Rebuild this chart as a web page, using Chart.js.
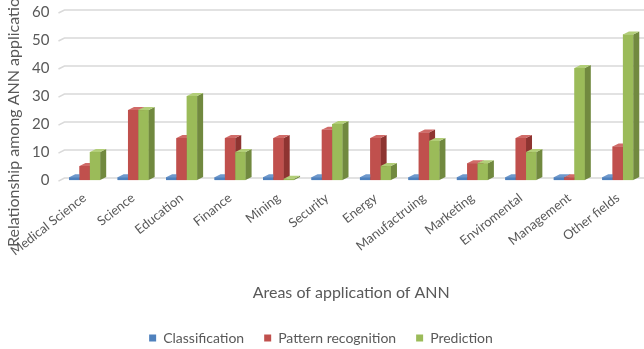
<!DOCTYPE html>
<html>
<head>
<meta charset="utf-8">
<script src="https://cdn.jsdelivr.net/npm/chart.js@4/dist/chart.umd.min.js"></script>
<style>
  html, body { margin: 0; padding: 0; background: #ffffff; }
  #wrap { width: 644px; height: 349px; position: relative; }
</style>
</head>
<body>
<div id="wrap"><canvas id="c" width="644" height="349"></canvas></div>
<script>
const categories = ["Medical Science", "Science", "Education", "Finance", "Mining", "Security",
  "Energy", "Manufactruing", "Marketing", "Enviromental", "Management", "Other fields"];
const classification = [1, 1, 1, 1, 1, 1, 1, 1, 1, 1, 1, 1];
const patternRecognition = [5, 25, 15, 15, 15, 18, 15, 17, 6, 15, 1, 12];
const prediction = [10, 25, 30, 10, 0.5, 20, 5, 14, 6, 10, 40, 52];
const yTicks = [0, 10, 20, 30, 40, 50, 60];

const TEXT = "#595959";
const FONT = "Lato, 'Liberation Sans', sans-serif";
const DEPTH_X = 6, DEPTH_Y = 3;

// face colours per series: front, side, top
const palette = [
  { front: "#4F81BD", side: "#385D8A", top: "#6E98CC" },
  { front: "#C0504D", side: "#8E3431", top: "#D06B68" },
  { front: "#9BBB59", side: "#71893F", top: "#B2CE78" }
];

// back wall gridlines with a short slanted edge on the left
const backGrid = {
  id: "backGrid",
  beforeDatasetsDraw(chart) {
    const { ctx, chartArea } = chart;
    const y = chart.scales.y;
    ctx.save();
    ctx.strokeStyle = "#D9D9D9";
    ctx.lineWidth = 1.5;
    yTicks.forEach(v => {
      const py = y.getPixelForValue(v);
      ctx.beginPath();
      ctx.moveTo(chartArea.left - 2, py + 1);
      ctx.lineTo(chartArea.left + DEPTH_X - 2, py - DEPTH_Y + 1);
      ctx.lineTo(chartArea.right + DEPTH_X - 2, py - DEPTH_Y + 1);
      ctx.stroke();
    });
    ctx.restore();
  }
};

// extruded bars: front, top and right-hand faces, series drawn left to right
const bars3d = {
  id: "bars3d",
  afterDatasetsDraw(chart) {
    const { ctx } = chart;
    ctx.save();
    chart.data.datasets.forEach((ds, di) => {
      const meta = chart.getDatasetMeta(di);
      const c = palette[di];
      meta.data.forEach(el => {
        const p = el.getProps(["x", "y", "base", "width"], true);
        const l = p.x - p.width / 2, r = p.x + p.width / 2;
        const top = Math.min(p.y, p.base), bot = Math.max(p.y, p.base);
        ctx.fillStyle = c.front;
        ctx.fillRect(l, top, r - l, bot - top);
        ctx.fillStyle = c.side;
        ctx.beginPath();
        ctx.moveTo(r, top); ctx.lineTo(r + DEPTH_X, top - DEPTH_Y);
        ctx.lineTo(r + DEPTH_X, bot - DEPTH_Y); ctx.lineTo(r, bot);
        ctx.closePath(); ctx.fill();
        ctx.fillStyle = c.top;
        ctx.beginPath();
        ctx.moveTo(l, top); ctx.lineTo(l + DEPTH_X, top - DEPTH_Y);
        ctx.lineTo(r + DEPTH_X, top - DEPTH_Y); ctx.lineTo(r, top);
        ctx.closePath(); ctx.fill();
      });
    });
    ctx.restore();
  }
};

// vertical axis title
const yTitle = {
  id: "yTitle",
  afterDraw(chart) {
    const { ctx } = chart;
    ctx.save();
    ctx.translate(14, 118);
    ctx.rotate(-Math.PI / 2);
    ctx.fillStyle = TEXT;
    ctx.font = "16px " + FONT;
    ctx.textAlign = "center";
    ctx.textBaseline = "middle";
    ctx.fillText("Relationship among ANN application", 0, 0);
    ctx.restore();
  }
};

new Chart(document.getElementById("c"), {
  type: "bar",
  data: {
    labels: categories,
    datasets: [
      { label: "Classification", data: classification, backgroundColor: palette[0].front },
      { label: "Pattern recognition", data: patternRecognition, backgroundColor: palette[1].front },
      { label: "Prediction", data: prediction, backgroundColor: palette[2].front }
    ]
  },
  options: {
    responsive: false,
    animation: false,
    categoryPercentage: 0.64,
    barPercentage: 1.0,
    layout: { padding: { top: 12, right: 2, left: 0, bottom: -6 } },
    plugins: {
      tooltip: { enabled: false },
      legend: {
        position: "bottom",
        labels: {
          color: TEXT,
          font: { family: FONT, size: 14 },
          boxWidth: 7, boxHeight: 7,
          padding: 20
        }
      }
    },
    scales: {
      x: {
        grid: { display: false, drawTicks: false },
        border: { display: false },
        ticks: {
          color: TEXT,
          font: { family: FONT, size: 13 },
          minRotation: 38, maxRotation: 38,
          padding: 10
        },
        title: {
          display: true,
          text: "Areas of application of ANN",
          color: TEXT,
          font: { family: FONT, size: 16 },
          padding: { top: 14, bottom: 9 }
        }
      },
      y: {
        min: 0, max: 60,
        afterFit(s) { s.width = 60; },
        grid: { display: false, drawTicks: true, tickLength: 11 },
        border: { display: false },
        ticks: {
          color: TEXT,
          font: { family: FONT, size: 15 },
          stepSize: 10,
          padding: 0
        }
      }
    }
  },
  plugins: [backGrid, bars3d, yTitle]
});
</script>
</body>
</html>
